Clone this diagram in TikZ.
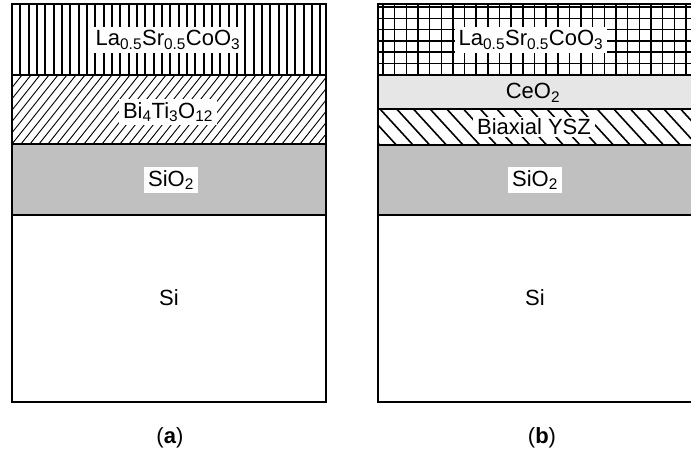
\documentclass[tikz,border=0pt]{standalone}
\usepackage{fontspec}
\setmainfont{Liberation Sans}
\begin{document}
\begin{tikzpicture}[x=1pt,y=-1pt,
  lbl/.style={fill=white, inner xsep=4pt, inner ysep=3.5pt, font=\fontsize{22}{26}\selectfont},
  captxt/.style={inner sep=0pt, font=\fontsize{22}{26}\selectfont},
  border/.style={line width=2.2pt},
  vline/.style={line width=1.9pt},
  gridline/.style={line width=1.5pt},
  thinhatch/.style={line width=0.9pt},
  thickhatch/.style={line width=1.6pt},
  ]
\useasboundingbox (0,0) rectangle (691,451);
\definecolor{siogray}{HTML}{C0C0C0}
\definecolor{ceogray}{HTML}{E6E6E6}
% ---------- left stack ----------
\fill[siogray] (12,144) rectangle (326,215);
\begin{scope}
  \clip (12,4) rectangle (326,75);
  \foreach \i in {1,...,38} \draw[vline] ({12+8.33*\i},4) -- ++(0,71);
\end{scope}
\begin{scope}
  \clip (12,75) rectangle (326,144);
  \foreach \i in {-8,...,36} \draw[thinhatch] ({12+9*\i},144) -- ++(55,-69);
\end{scope}
\draw[border] (12,4) rectangle (326,402);
\draw[border] (12,75) -- (326,75);
\draw[border] (12,144) -- (326,144);
\draw[border] (12,215) -- (326,215);
\node[lbl] (la1) at (168,40) {La\textsubscript{0.5}Sr\textsubscript{0.5}CoO\textsubscript{3}};
\node[lbl] (bi1) at (168,112) {Bi\textsubscript{4}Ti\textsubscript{3}O\textsubscript{12}};
\node[lbl] (sio1) at (171,180) {SiO\textsubscript{2}};
\node[lbl] (si1) at (169,298) {Si};
\node[captxt] (capa) at (170,438) {(\textbf{a})};
% ---------- right stack ----------
\fill[ceogray] (378,75) rectangle (692,109);
\fill[siogray] (378,145) rectangle (692,215);
\begin{scope}
  \clip (378,4) rectangle (692,75);
  \foreach \i in {0,...,27} \draw[gridline] ({383+11.65*\i},4) -- ++(0,71);
  \foreach \j in {0,...,6} \draw[gridline] (378,{7+11.3*\j}) -- ++(314,0);
\end{scope}
\begin{scope}
  \clip (378,109) rectangle (692,145);
  \foreach \i in {-3,...,20} \draw[thickhatch] ({380+16.7*\i},109) -- ++(33,36);
\end{scope}
\draw[border] (378,4) rectangle (692,402);
\draw[border] (378,75) -- (692,75);
\draw[border] (378,109) -- (692,109);
\draw[border] (378,145) -- (692,145);
\draw[border] (378,215) -- (692,215);
\node[lbl] (la2) at (531,40) {La\textsubscript{0.5}Sr\textsubscript{0.5}CoO\textsubscript{3}};
\node[lbl, fill=ceogray, inner ysep=2pt] (ceo2) at (533,93) {CeO\textsubscript{2}};
\node[lbl, inner ysep=2pt] (ysz2) at (534,127) {Biaxial YSZ};
\node[lbl] (sio2) at (535,180) {SiO\textsubscript{2}};
\node[lbl] (si2) at (535,298) {Si};
\node[captxt] (capb) at (542,438) {(\textbf{b})};
\end{tikzpicture}
\end{document}
